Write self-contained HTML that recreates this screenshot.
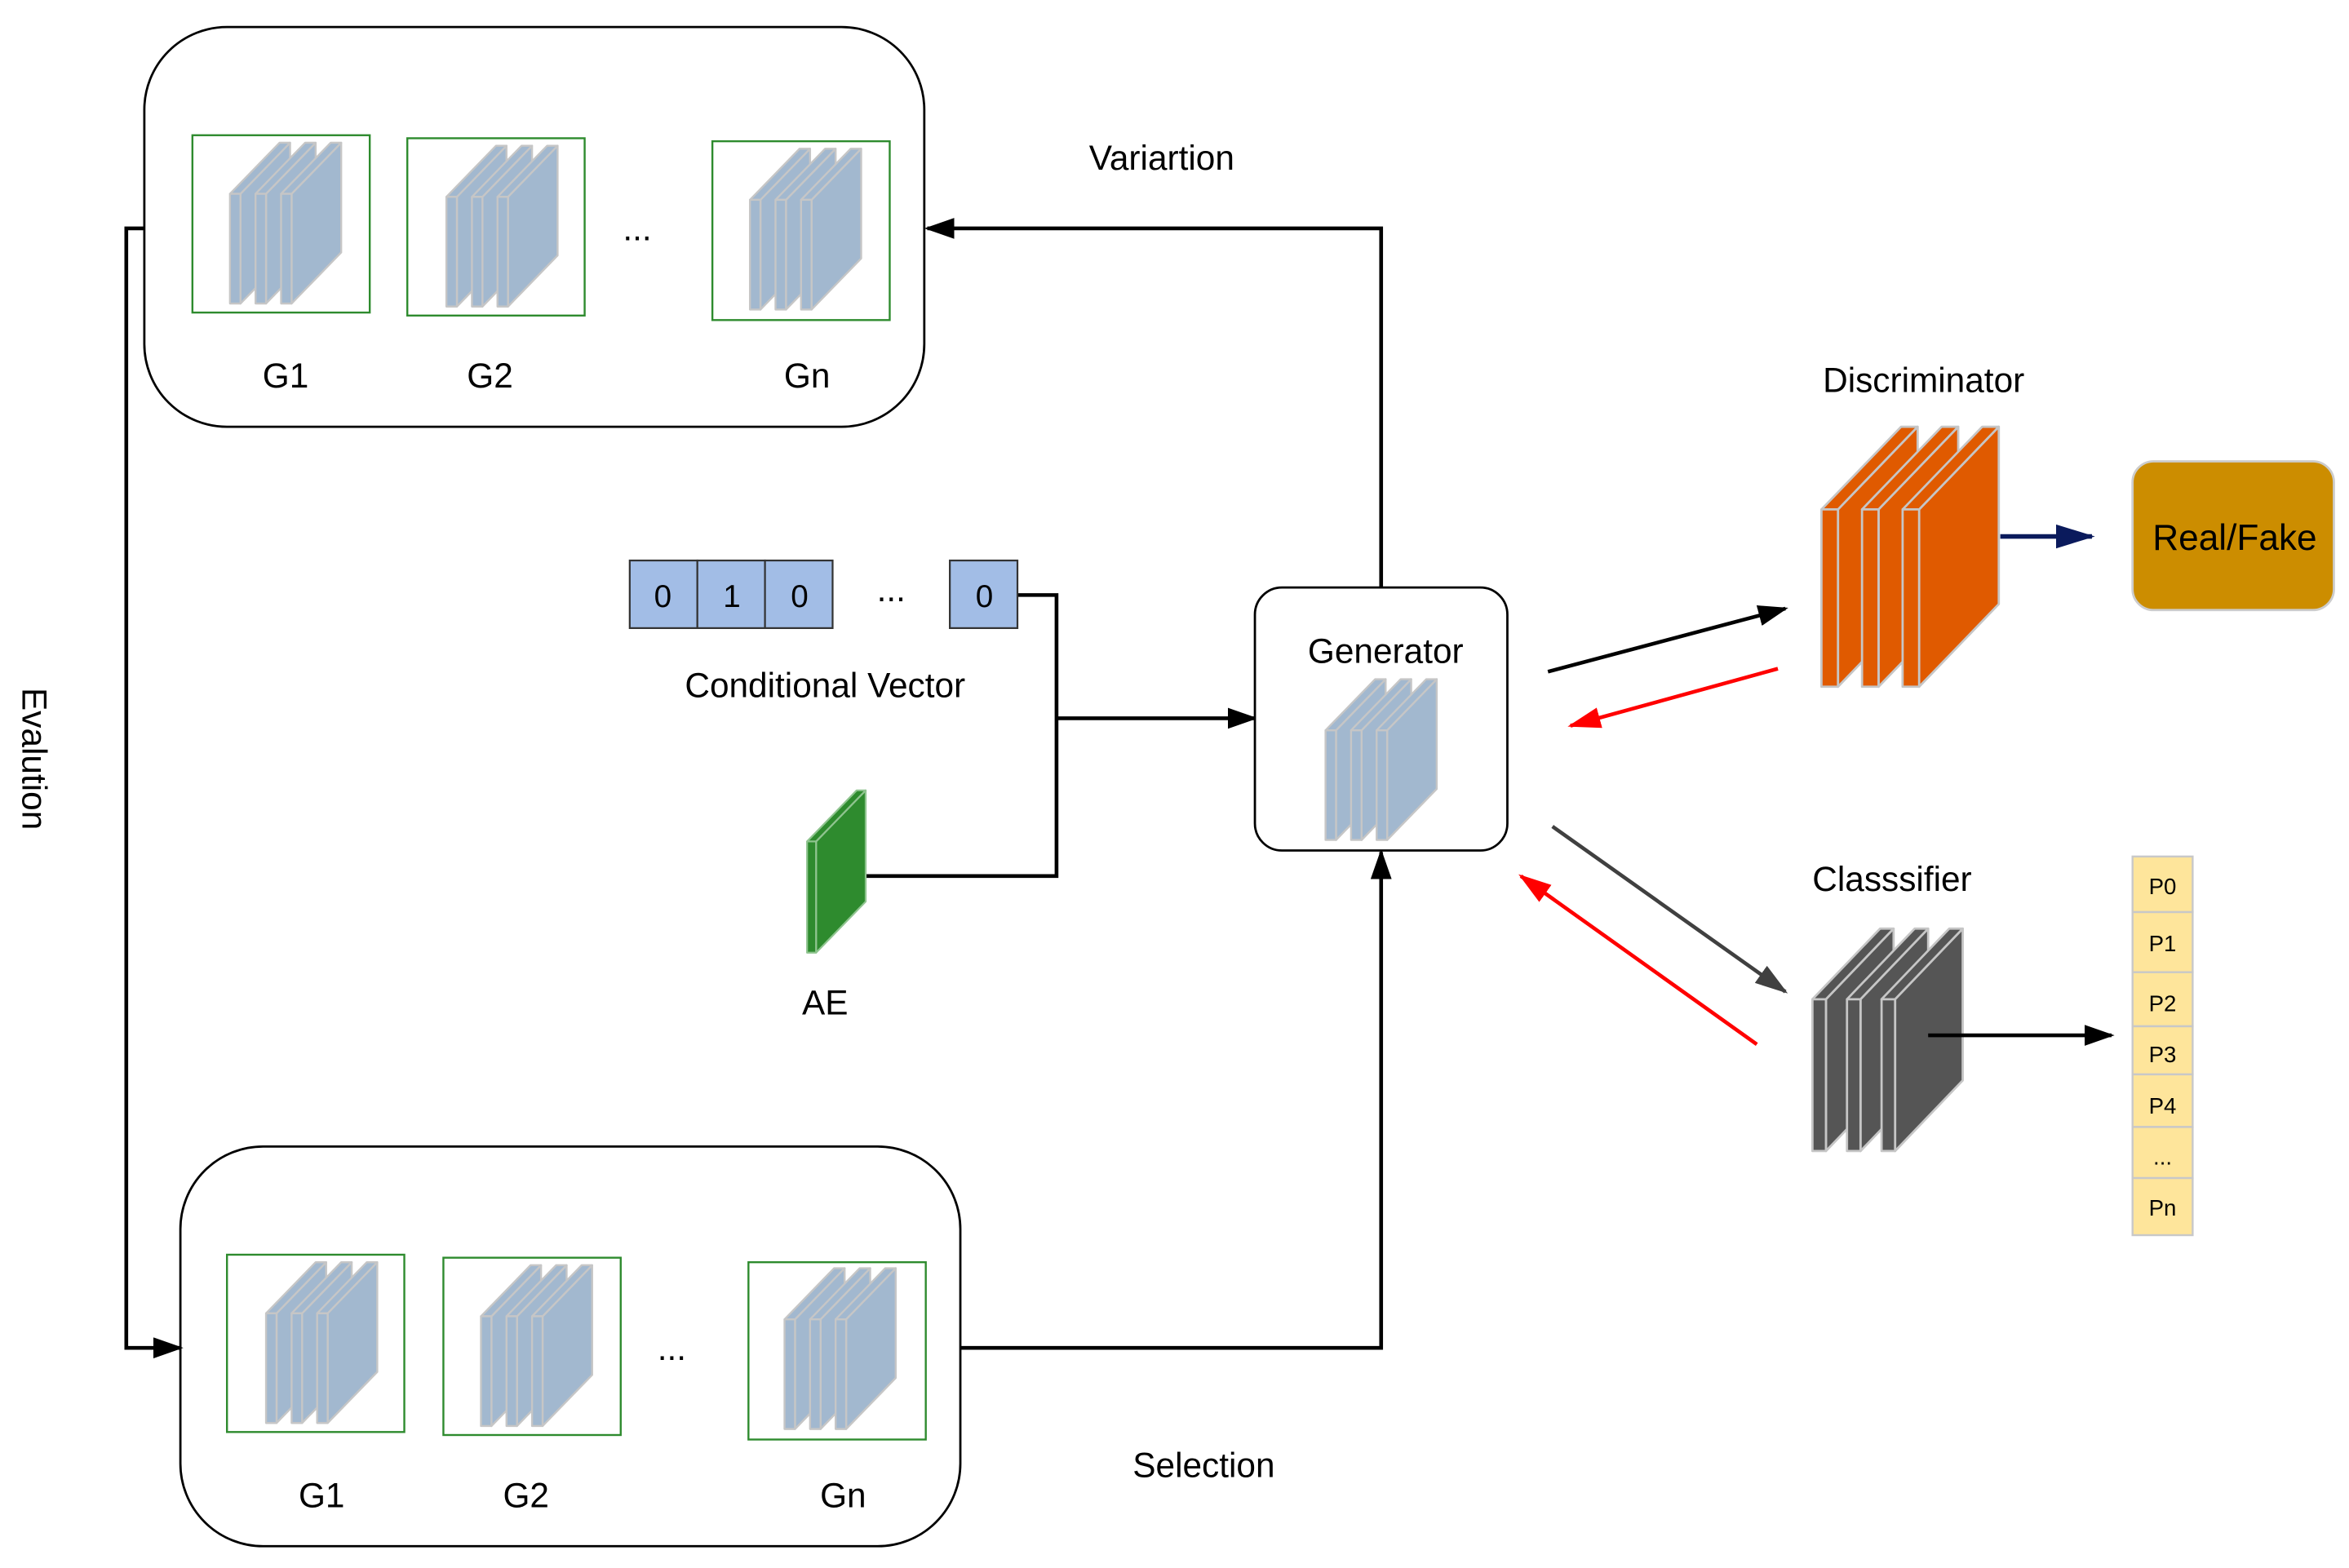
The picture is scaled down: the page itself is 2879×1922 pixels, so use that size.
<!DOCTYPE html>
<html><head><meta charset="utf-8"><style>html,body{margin:0;padding:0;background:#fff}svg{display:block}</style></head>
<body>
<svg width="2879" height="1922" viewBox="0 0 1563 1043.5" xmlns="http://www.w3.org/2000/svg" font-family="Liberation Sans, sans-serif">
<defs>
<marker id="ab" markerUnits="userSpaceOnUse" markerWidth="20" markerHeight="14" refX="18" refY="7" orient="auto"><path d="M0,0 L20,7 L0,14 z" fill="#000"/></marker>
<marker id="ar" markerUnits="userSpaceOnUse" markerWidth="22" markerHeight="14" refX="20" refY="7" orient="auto"><path d="M0,0 L22,7 L0,14 z" fill="#f00"/></marker>
<marker id="ag" markerUnits="userSpaceOnUse" markerWidth="22" markerHeight="14" refX="20" refY="7" orient="auto"><path d="M0,0 L22,7 L0,14 z" fill="#404040"/></marker>
<marker id="an" markerUnits="userSpaceOnUse" markerWidth="26" markerHeight="16" refX="24" refY="8" orient="auto"><path d="M0,0 L26,8 L0,16 z" fill="#0a1a5c"/></marker>
<g id="bs" fill="#a2b8cf" stroke="#c6c6c6" stroke-width="1.3" stroke-linejoin="round">
<polygon points="7,0 40,-34 40,39 7,73"/><polygon points="0,0 33,-34 40,-34 7,0"/><rect x="0" y="0" width="7" height="73"/>
</g>
<g id="blue"><use href="#bs"/><use href="#bs" x="17"/><use href="#bs" x="34"/></g>
<g id="os" fill="#e05a00" stroke="#c6c6c6" stroke-width="1.5" stroke-linejoin="round">
<polygon points="11,0 64,-55 64,63 11,118"/><polygon points="0,0 53,-55 64,-55 11,0"/><rect x="0" y="0" width="11" height="118"/>
</g>
<g id="gs" fill="#555" stroke="#c6c6c6" stroke-width="1.5" stroke-linejoin="round">
<polygon points="9,0 54,-47 54,54 9,101"/><polygon points="0,0 45,-47 54,-47 9,0"/><rect x="0" y="0" width="9" height="101"/>
</g>
</defs>

<rect x="96" y="18" width="519" height="266" rx="55" fill="#fff" stroke="#000" stroke-width="1.5"/>
<rect x="120" y="763" width="519" height="266" rx="55" fill="#fff" stroke="#000" stroke-width="1.5"/>
<g fill="#fff" stroke="#2e8b2e" stroke-width="1.3">
<rect x="128" y="90" width="118" height="118"/><rect x="271" y="92" width="118" height="118"/><rect x="474" y="94" width="118" height="119"/>
<rect x="151" y="835" width="118" height="118"/><rect x="295" y="837" width="118" height="118"/><rect x="498" y="840" width="118" height="118"/>
</g>
<use href="#blue" x="153" y="129"/><use href="#blue" x="297" y="131"/><use href="#blue" x="499" y="133"/>
<use href="#blue" x="177" y="874"/><use href="#blue" x="320" y="876"/><use href="#blue" x="522" y="878"/>

<g fill="none" stroke="#000" stroke-width="2.5">
<polyline points="919,391 919,152 617,152" marker-end="url(#ab)"/>
<polyline points="96,152 84,152 84,897 120,897" marker-end="url(#ab)"/>
<polyline points="639,897 919,897 919,567" marker-end="url(#ab)"/>
<polyline points="677,396 703,396 703,583 565,583"/>
<polyline points="703,478 835,478" marker-end="url(#ab)"/>
</g>

<g fill="#a2bde6" stroke="#333" stroke-width="1.2">
<rect x="419" y="373" width="45" height="45"/><rect x="464" y="373" width="45" height="45"/><rect x="509" y="373" width="45" height="45"/><rect x="632" y="373" width="45" height="45"/>
</g>
<g font-size="21" text-anchor="middle"><text x="441" y="404">0</text><text x="487" y="404">1</text><text x="532" y="404">0</text><text x="655" y="404">0</text></g>

<g fill="#2e8b2e" stroke="#8fc48f" stroke-width="1.2" stroke-linejoin="round">
<polygon points="543,560 576,526 576,600 543,634"/><polygon points="537,560 570,526 576,526 543,560"/><rect x="537" y="560" width="6" height="74"/>
</g>

<rect x="835" y="391" width="168" height="175" rx="18" fill="#fff" stroke="#000" stroke-width="1.5"/>
<use href="#blue" x="882" y="486"/>

<use href="#os" x="1212" y="339"/><use href="#os" x="1239" y="339"/><use href="#os" x="1266" y="339"/>
<line x1="1331" y1="357" x2="1392" y2="357" stroke="#0a1a5c" stroke-width="3" marker-end="url(#an)"/>
<rect x="1419" y="307" width="134" height="99" rx="14" fill="#cc8d00" stroke="#ccc" stroke-width="1.5"/>
<text x="1487" y="366" font-size="24" text-anchor="middle">Real/Fake</text>

<use href="#gs" x="1206" y="665"/><use href="#gs" x="1229" y="665"/><use href="#gs" x="1252" y="665"/>
<line x1="1283" y1="689" x2="1405" y2="689" stroke="#000" stroke-width="2.5" marker-end="url(#ab)"/>

<g fill="#fee59b" stroke="#c8c8c8" stroke-width="1.3">
<rect x="1419" y="570" width="40" height="37"/><rect x="1419" y="607" width="40" height="40"/><rect x="1419" y="647" width="40" height="36"/><rect x="1419" y="683" width="40" height="32"/><rect x="1419" y="715" width="40" height="35"/><rect x="1419" y="750" width="40" height="34"/><rect x="1419" y="784" width="40" height="38"/>
</g>
<g font-size="15" text-anchor="middle">
<text x="1439" y="595">P0</text><text x="1439" y="633">P1</text><text x="1439" y="673">P2</text><text x="1439" y="707">P3</text><text x="1439" y="741">P4</text><text x="1439" y="775">...</text><text x="1439" y="809">Pn</text>
</g>

<line x1="1030" y1="447" x2="1188" y2="405" stroke="#000" stroke-width="2.5" marker-end="url(#ab)"/>
<line x1="1183" y1="445" x2="1045" y2="483" stroke="#f00" stroke-width="2.5" marker-end="url(#ar)"/>
<line x1="1033" y1="550" x2="1188" y2="660" stroke="#404040" stroke-width="2.5" marker-end="url(#ag)"/>
<line x1="1169" y1="695" x2="1012" y2="583" stroke="#f00" stroke-width="2.5" marker-end="url(#ar)"/>

<g font-size="23" text-anchor="middle" fill="#000">
<text x="190" y="258">G1</text><text x="326" y="258">G2</text><text x="537" y="258">Gn</text>
<text x="424" y="160">...</text>
<text x="214" y="1003">G1</text><text x="350" y="1003">G2</text><text x="561" y="1003">Gn</text>
<text x="447" y="905">...</text>
<text x="773" y="113">Variartion</text>
<text x="801" y="983">Selection</text>
<text x="549" y="464">Conditional Vector</text>
<text x="549" y="675">AE</text>
<text x="922" y="441">Generator</text>
<text x="1280" y="261">Discriminator</text>
<text x="1259" y="593">Classsifier</text>
<text x="593" y="400">...</text>
<text transform="translate(15,505) rotate(90)" x="0" y="0">Evalution</text>
</g>
</svg>
</body></html>
